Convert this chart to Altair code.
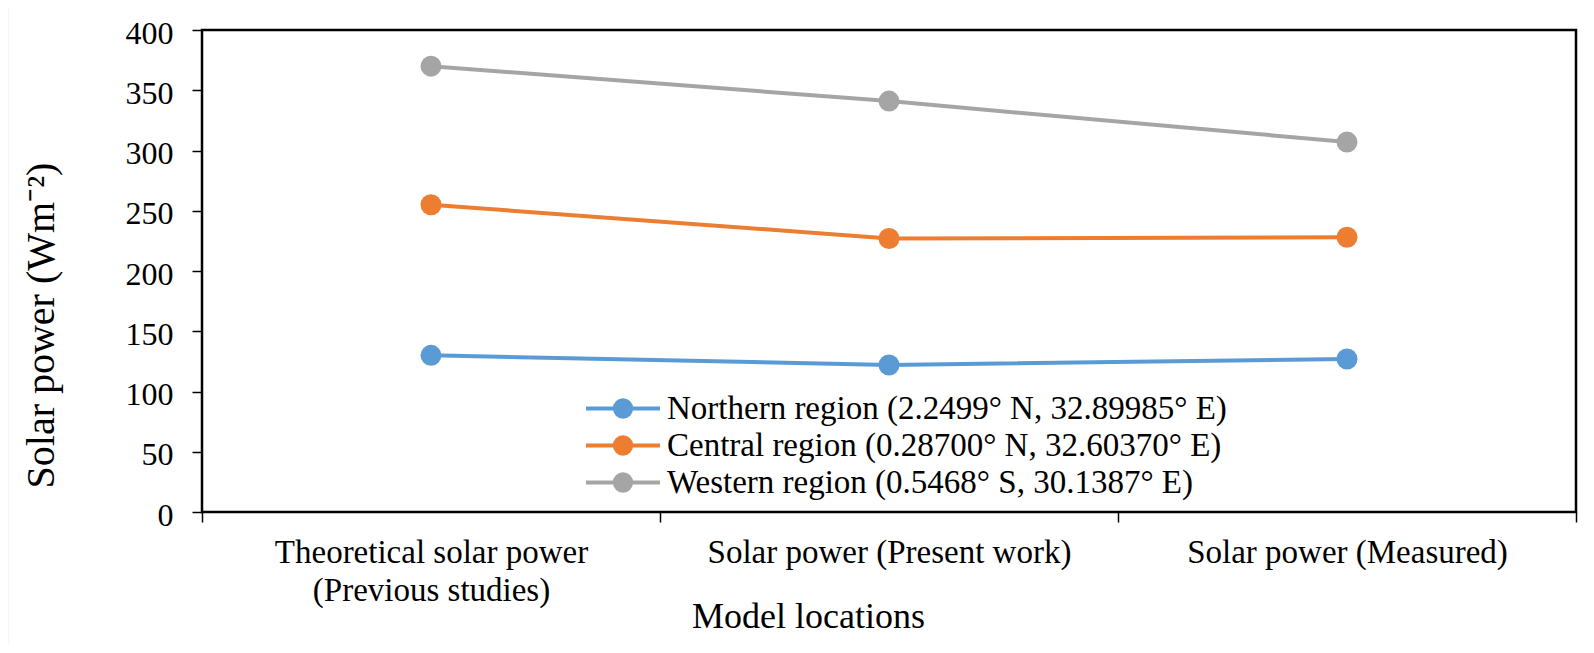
import altair as alt
import pandas as pd

categories = [
    "Theoretical solar power|(Previous studies)",
    "Solar power (Present work)",
    "Solar power (Measured)",
]
series = [
    "Northern region (2.2499° N, 32.89985° E)",
    "Central region (0.28700° N, 32.60370° E)",
    "Western region (0.5468° S, 30.1387° E)",
]
northern = [130, 122, 127]
central = [255, 227, 228]
western = [370, 341, 307]
colors = ["#5B9BD5", "#ED7D31", "#A5A5A5"]
y_ticks = [0, 50, 100, 150, 200, 250, 300, 350, 400]

rows = []
for name, vals in zip(series, [northern, central, western]):
    for c, v in zip(categories, vals):
        rows.append({"category": c, "series": name, "value": v})
df = pd.DataFrame(rows)

FONT = "Liberation Serif"
W, H = 1374, 482

legend_path = "M-1,0L1,0M-0.22,0A0.22,0.22,0,1,1,0.22,0A0.22,0.22,0,1,1,-0.22,0Z"

color = alt.Color(
    "series:N",
    scale=alt.Scale(domain=series, range=colors),
    sort=series,
    legend=alt.Legend(
        title=None,
        orient="none",
        legendX=382,
        legendY=360,
        padding=0,
        symbolType=legend_path,
        symbolSize=5476,
        symbolStrokeWidth=4,
        clipHeight=37,
        rowPadding=0,
        labelFont=FONT,
        labelFontSize=33,
        labelColor="black",
        labelLimit=1000,
        labelOffset=5,
    ),
)

base = alt.Chart(df).encode(
    x=alt.X(
        "category:N",
        sort=categories,
        bandPosition=0.5,
        scale=alt.Scale(type="band", paddingInner=0, paddingOuter=0),
        axis=alt.Axis(
            title="Model locations",
            labelExpr="split(datum.label, '|')",
            labelAngle=0,
            labelFont=FONT,
            labelFontSize=33,
            labelColor="black",
            labelLineHeight=38,
            labelPadding=40,
            labelBaseline="alphabetic",
            labelLimit=1000,
            tickBand="extent",
            tickColor="black",
            tickSize=10,
            tickWidth=1.5,
            domain=False,
            grid=False,
            titleFont=FONT,
            titleFontSize=36,
            titleFontWeight="normal",
            titleColor="black",
            titleX=606,
            titleY=115,
            titleBaseline="alphabetic",
            titleAlign="center",
        ),
    ),
    y=alt.Y(
        "value:Q",
        scale=alt.Scale(domain=[0, 400], nice=False),
        axis=alt.Axis(
            title="Solar power (Wm⁻²)",
            values=y_ticks,
            labelFont=FONT,
            labelFontSize=32,
            labelColor="black",
            labelPadding=19,
            labelOffset=3,
            tickColor="black",
            tickSize=10,
            tickWidth=1.5,
            domain=False,
            grid=False,
            titleFont=FONT,
            titleFontSize=40,
            titleFontWeight="normal",
            titleColor="black",
            titleX=-149,
            titleY=295,
            titleBaseline="alphabetic",
            titleAlign="center",
        ),
    ),
    color=color,
)

lines = base.mark_line(strokeWidth=4)
points = base.mark_point(filled=True, size=441, opacity=1, shape="circle")

frame = alt.Chart(pd.DataFrame({"a": [0]})).mark_rect(
    fill=None, stroke="#D9D9D9", strokeWidth=2.5
).encode(
    x=alt.value(-195), x2=alt.value(1386), y=alt.value(-24), y2=alt.value(617)
)

chart = alt.layer(frame, lines, points).properties(
    width=W,
    height=H,
    background="white",
    autosize=alt.AutoSizeParams(type="none"),
    padding={"left": 194, "top": 22, "right": 10, "bottom": 133},
).configure_view(
    stroke="black", strokeWidth=2.5
)

chart.save("out.html", embed_options={"renderer": "svg", "actions": False})
